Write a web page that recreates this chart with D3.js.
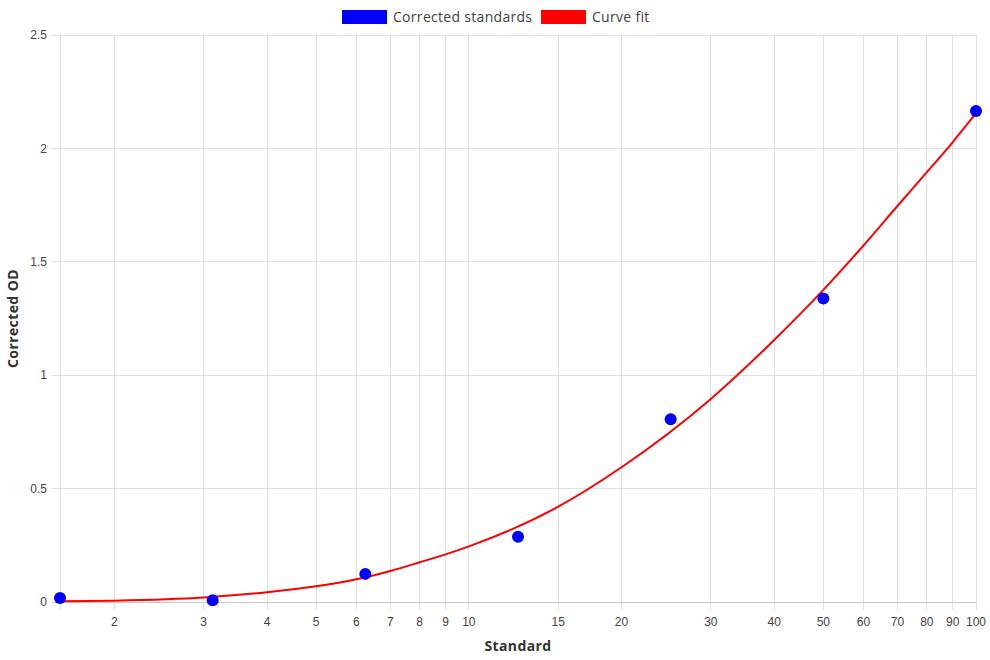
<!DOCTYPE html>
<html>
<head>
<meta charset="utf-8">
<script src="https://d3js.org/d3.v7.min.js"></script>
<style>
  body { margin: 0; background: #fff; }
  svg { display: block; }
</style>
</head>
<body>
<script>
// data
const standardX = [1.5625, 3.125, 6.25, 12.5, 25, 50, 100];
const standardOD = [0.018, 0.008, 0.124, 0.288, 0.806, 1.338, 2.165];

const fitX = [1.5625, 2, 3, 4, 5, 6, 7, 8, 9, 10, 15, 20, 30, 40, 50, 60, 70, 80, 90, 100];
const fitOD = [0.003, 0.006, 0.02, 0.043, 0.069, 0.10, 0.137, 0.175, 0.21, 0.245, 0.42, 0.594, 0.895, 1.155, 1.376, 1.572, 1.746, 1.895, 2.028, 2.155];

const xTicks = [2, 3, 4, 5, 6, 7, 8, 9, 10, 15, 20, 30, 40, 50, 60, 70, 80, 90, 100];
const yTicks = [0, 0.5, 1, 1.5, 2, 2.5];

const seriesNames = ["Corrected standards", "Curve fit"];
const seriesColors = ["#0000ff", "#ff0000"];

let width = 990, height = 660;
let plotLeft = 60, plotRight = 976, plotTop = 35, plotBottom = 602;

const tickFont = "'Liberation Sans', Arial, sans-serif";
const titleFont = "'Open Sans', 'Noto Sans', sans-serif";

let svg = d3.select("body").append("svg")
    .attr("width", width)
    .attr("height", height);

let x = d3.scaleLog()
    .domain([1.5625, 100])
    .range([plotLeft, plotRight]);
let y = d3.scaleLinear()
    .domain([0, 2.5])
    .range([plotBottom, plotTop]);

// grid lines
svg.append("g")
    .selectAll("line")
    .data(yTicks)
    .join("line")
        .attr("x1", plotLeft - 8)
        .attr("x2", plotRight)
        .attr("y1", d => y(d))
        .attr("y2", d => y(d))
        .attr("stroke", d => d === 0 ? "#c8c8c8" : "#e0e0e0")
        .attr("stroke-width", 1)
        .attr("shape-rendering", "crispEdges");

svg.append("g")
    .selectAll("line")
    .data(xTicks)
    .join("line")
        .attr("x1", d => x(d))
        .attr("x2", d => x(d))
        .attr("y1", plotTop)
        .attr("y2", plotBottom + 8)
        .attr("stroke", "#e0e0e0")
        .attr("stroke-width", 1)
        .attr("shape-rendering", "crispEdges");

// left axis line
svg.append("line")
    .attr("x1", plotLeft).attr("x2", plotLeft)
    .attr("y1", plotTop).attr("y2", plotBottom + 8)
    .attr("stroke", "#e0e0e0")
    .attr("shape-rendering", "crispEdges");

// tick labels
svg.append("g")
    .selectAll("text")
    .data(yTicks)
    .join("text")
        .attr("x", plotLeft - 13)
        .attr("y", d => y(d))
        .attr("dy", "0.35em")
        .attr("text-anchor", "end")
        .attr("font-family", tickFont)
        .attr("font-size", 12)
        .attr("fill", "#444")
        .text(d => d);

svg.append("g")
    .selectAll("text")
    .data(xTicks)
    .join("text")
        .attr("x", d => x(d))
        .attr("y", plotBottom + 24)
        .attr("text-anchor", "middle")
        .attr("font-family", tickFont)
        .attr("font-size", 12)
        .attr("fill", "#444")
        .text(d => d);

// axis titles
svg.append("text")
    .attr("x", (plotLeft + plotRight) / 2)
    .attr("y", 651)
    .attr("text-anchor", "middle")
    .attr("font-family", titleFont)
    .attr("font-weight", "bold")
    .attr("font-size", 14)
    .attr("letter-spacing", 0.4)
    .attr("fill", "#333")
    .text("Standard");

svg.append("text")
    .attr("transform", `translate(18, ${(plotTop + plotBottom) / 2}) rotate(-90)`)
    .attr("text-anchor", "middle")
    .attr("font-family", titleFont)
    .attr("font-weight", "bold")
    .attr("font-size", 14)
    .attr("letter-spacing", 0.4)
    .attr("fill", "#333")
    .text("Corrected OD");

// curve fit
let line = d3.line()
    .x(d => x(d[0]))
    .y(d => y(d[1]))
    .curve(d3.curveMonotoneX);

svg.append("path")
    .datum(d3.zip(fitX, fitOD))
    .attr("d", line)
    .attr("fill", "none")
    .attr("stroke", seriesColors[1])
    .attr("stroke-width", 2);

// standards
svg.append("g")
    .selectAll("circle")
    .data(d3.zip(standardX, standardOD))
    .join("circle")
        .attr("cx", d => x(d[0]))
        .attr("cy", d => y(d[1]))
        .attr("r", 6)
        .attr("fill", seriesColors[0]);

// legend
let legendPos = [342, 541];
let legend = svg.append("g")
    .selectAll("g")
    .data(seriesNames)
    .join("g")
        .attr("transform", (d, i) => `translate(${legendPos[i]}, 10)`);
legend.append("rect")
    .attr("width", 45)
    .attr("height", 14)
    .attr("fill", (d, i) => seriesColors[i]);
legend.append("text")
    .attr("x", 51)
    .attr("y", 7)
    .attr("dy", "0.35em")
    .attr("font-family", titleFont)
    .attr("font-size", 14)
    .attr("letter-spacing", 0.3)
    .attr("fill", "#444")
    .text(d => d);
</script>
</body>
</html>
